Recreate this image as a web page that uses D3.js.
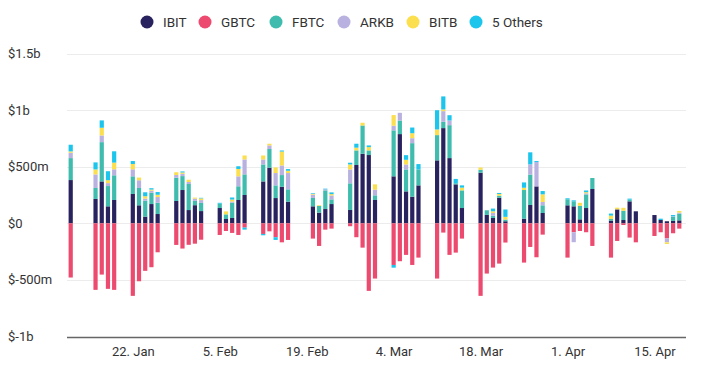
<!DOCTYPE html>
<html>
<head>
<meta charset="utf-8">
<script src="https://cdn.jsdelivr.net/npm/d3@7"></script>
<style>
  body { margin: 0; background: #fff; }
  #chart { width: 701px; height: 370px; }
  text { font-family: Roboto, "Noto Sans", sans-serif; fill: #333; }
  .axis path, .axis line { display: none; }
</style>
</head>
<body>
<div id="chart"></div>
<script>
// daily net flows, $m
var dates = ['2024-01-12','2024-01-16','2024-01-17','2024-01-18','2024-01-19','2024-01-22','2024-01-23','2024-01-24','2024-01-25','2024-01-26',
  '2024-01-29','2024-01-30','2024-01-31','2024-02-01','2024-02-02','2024-02-05','2024-02-06','2024-02-07','2024-02-08','2024-02-09',
  '2024-02-12','2024-02-13','2024-02-14','2024-02-15','2024-02-16','2024-02-20','2024-02-21','2024-02-22','2024-02-23','2024-02-26',
  '2024-02-27','2024-02-28','2024-02-29','2024-03-01','2024-03-04','2024-03-05','2024-03-06','2024-03-07','2024-03-08','2024-03-11',
  '2024-03-12','2024-03-13','2024-03-14','2024-03-15','2024-03-18','2024-03-19','2024-03-20','2024-03-21','2024-03-22','2024-03-25',
  '2024-03-26','2024-03-27','2024-03-28','2024-04-01','2024-04-02','2024-04-03','2024-04-04','2024-04-05','2024-04-08','2024-04-09',
  '2024-04-10','2024-04-11','2024-04-12','2024-04-15','2024-04-16','2024-04-17','2024-04-18','2024-04-19'];
var ibit = [382,215,370,150,206,259,159,59,170,82, 197,294,117,160,108,135,38,47,206,250,
  370,491,223,323,191,150,94,126,170,118, 515,614,603,206,415,788,282,235,335,556,
  841,576,344,135,447,74,47,226,18,41, 162,326,91,159,150,35,135,303,24,123,
  29,194,106,73,29,18,21,26];
var gbtc = [-479,-588,-453,-579,-588,-641,-512,-420,-388,-256, -191,-223,-190,-180,-145,-103,-68,-85,-103,-38,
  -94,-71,-123,-168,-147,-135,-200,-56,-47,-26, -123,-215,-597,-488,-368,-335,-279,-368,-303,-488,
  -82,-279,-259,-135,-641,-444,-391,-356,-170,-347, -209,-300,-100,-303,-79,-68,-79,-200,-303,-156,
  -15,-126,-168,-112,-79,-133,-88,-47];
var fbtc = [194,97,347,179,218,156,153,141,100,100, 206,123,230,38,72,38,41,135,121,182,
  150,165,112,103,109,74,59,165,41,235, 129,250,41,41,406,120,194,473,141,223,
  56,291,10,156,26,41,20,18,15,253, 268,0,68,53,44,120,120,97,15,0,
  82,15,0,0,0,0,35,59];
var arkb = [47,120,59,26,53,62,68,18,18,50, 24,20,18,20,25,0,0,10,88,132,
  44,32,109,85,144,29,0,9,35,123, 0,0,0,50,41,68,44,44,0,0,
  94,41,0,0,0,0,24,0,0,0, 91,215,29,0,-88,0,10,0,0,0,
  0,0,0,0,0,-35,5,9];
var bitb = [12,44,68,26,59,47,24,21,10,20, 24,12,20,9,15,0,26,18,65,35,
  35,15,50,123,20,6,6,0,12,44, 24,24,29,47,94,0,41,44,0,50,
  15,0,0,24,20,0,15,15,24,20, 0,0,68,0,0,26,10,0,29,15,
  26,0,0,0,0,-15,0,15];
var others = [59,62,65,79,100,26,0,35,12,24, 0,9,0,0,5,8,0,18,24,-18,
  -12,0,-24,9,15,6,0,6,15,15, 35,0,15,0,-24,0,41,50,47,170,
  115,47,38,20,0,0,24,9,65,47, 106,9,29,9,9,0,15,0,18,0,
  0,9,0,0,12,0,12,0];

var keys = ['IBIT', 'GBTC', 'FBTC', 'ARKB', 'BITB', '5 Others'];
var colors = ['#28225e', '#ec4a6e', '#3fbcad', '#b9b2e1', '#fbdf4f', '#1cc5ec'];
var yTicks = [1500, 1000, 500, 0, -500, -1000];
var yTickLabels = ['$1.5b', '$1b', '$500m', '$0', '$-500m', '$-1b'];
var xTicks = ['2024-01-22', '2024-02-05', '2024-02-19', '2024-03-04', '2024-03-18', '2024-04-01', '2024-04-15'];

var parse = d3.timeParse('%Y-%m-%d');
var series = [ibit, gbtc, fbtc, arkb, bitb, others];
var rows = dates.map(function (d, i) {
  var r = { date: parse(d) };
  keys.forEach(function (k, j) { r[k] = series[j][i]; });
  return r;
});

var width = 701, height = 370;
var svg = d3.select('#chart').append('svg')
  .attr('width', width)
  .attr('height', height);

var x = d3.scaleTime()
  .domain([parse('2024-01-12'), parse('2024-04-19')])
  .range([70.7, 679.3]);
var y = d3.scaleLinear()
  .domain([-1000, 1500])
  .range([336.5, 53.5]);
var color = d3.scaleOrdinal().domain(keys).range(colors);

// gridlines
svg.append('g').selectAll('line')
  .data(yTicks)
  .enter().append('line')
  .attr('x1', 67).attr('x2', 686)
  .attr('y1', function (d) { return Math.round(y(d)) + 0.5; })
  .attr('y2', function (d) { return Math.round(y(d)) + 0.5; })
  .attr('stroke', function (d) { return d === -1000 ? '#666' : '#ececec'; })
  .attr('stroke-width', function (d) { return d === -1000 ? 1.5 : 1; });

// y labels
svg.append('g').selectAll('text')
  .data(yTicks)
  .enter().append('text')
  .attr('x', 8)
  .attr('y', function (d) { return y(d); })
  .attr('dy', '0.35em')
  .style('font-size', '13px')
  .text(function (d, i) { return yTickLabels[i]; });

// bars
var stack = d3.stack().keys(keys).offset(d3.stackOffsetDiverging);
var layers = stack(rows);
var bw = 4.2;
svg.append('g').selectAll('g')
  .data(layers)
  .enter().append('g')
  .attr('fill', function (d) { return color(d.key); })
  .selectAll('rect')
  .data(function (d) { return d; })
  .enter().append('rect')
  .attr('x', function (d) { return x(d.data.date) - bw / 2; })
  .attr('width', bw)
  .attr('y', function (d) { return y(Math.max(d[0], d[1])); })
  .attr('height', function (d) { return Math.abs(y(d[0]) - y(d[1])); });

// x axis
svg.append('g')
  .attr('class', 'axis')
  .attr('transform', 'translate(0,344)')
  .call(d3.axisBottom(x)
    .tickValues(xTicks.map(parse))
    .tickFormat(d3.timeFormat('%-d. %b'))
    .tickSize(0))
  .selectAll('text')
  .style('font-size', '13px')
  .style('fill', '#333')
  .attr('dy', '0.71em');

// legend
var legendX = [147, 205, 276, 344, 413, 476];
var legend = svg.append('g').selectAll('g')
  .data(keys)
  .enter().append('g')
  .attr('transform', function (d, i) { return 'translate(' + legendX[i] + ',22)'; });
legend.append('circle')
  .attr('r', 6.5)
  .attr('fill', function (d) { return color(d); });
legend.append('text')
  .attr('x', 16)
  .attr('dy', '0.35em')
  .style('font-size', '13.5px')
  .text(function (d) { return d; });
</script>
</body>
</html>
